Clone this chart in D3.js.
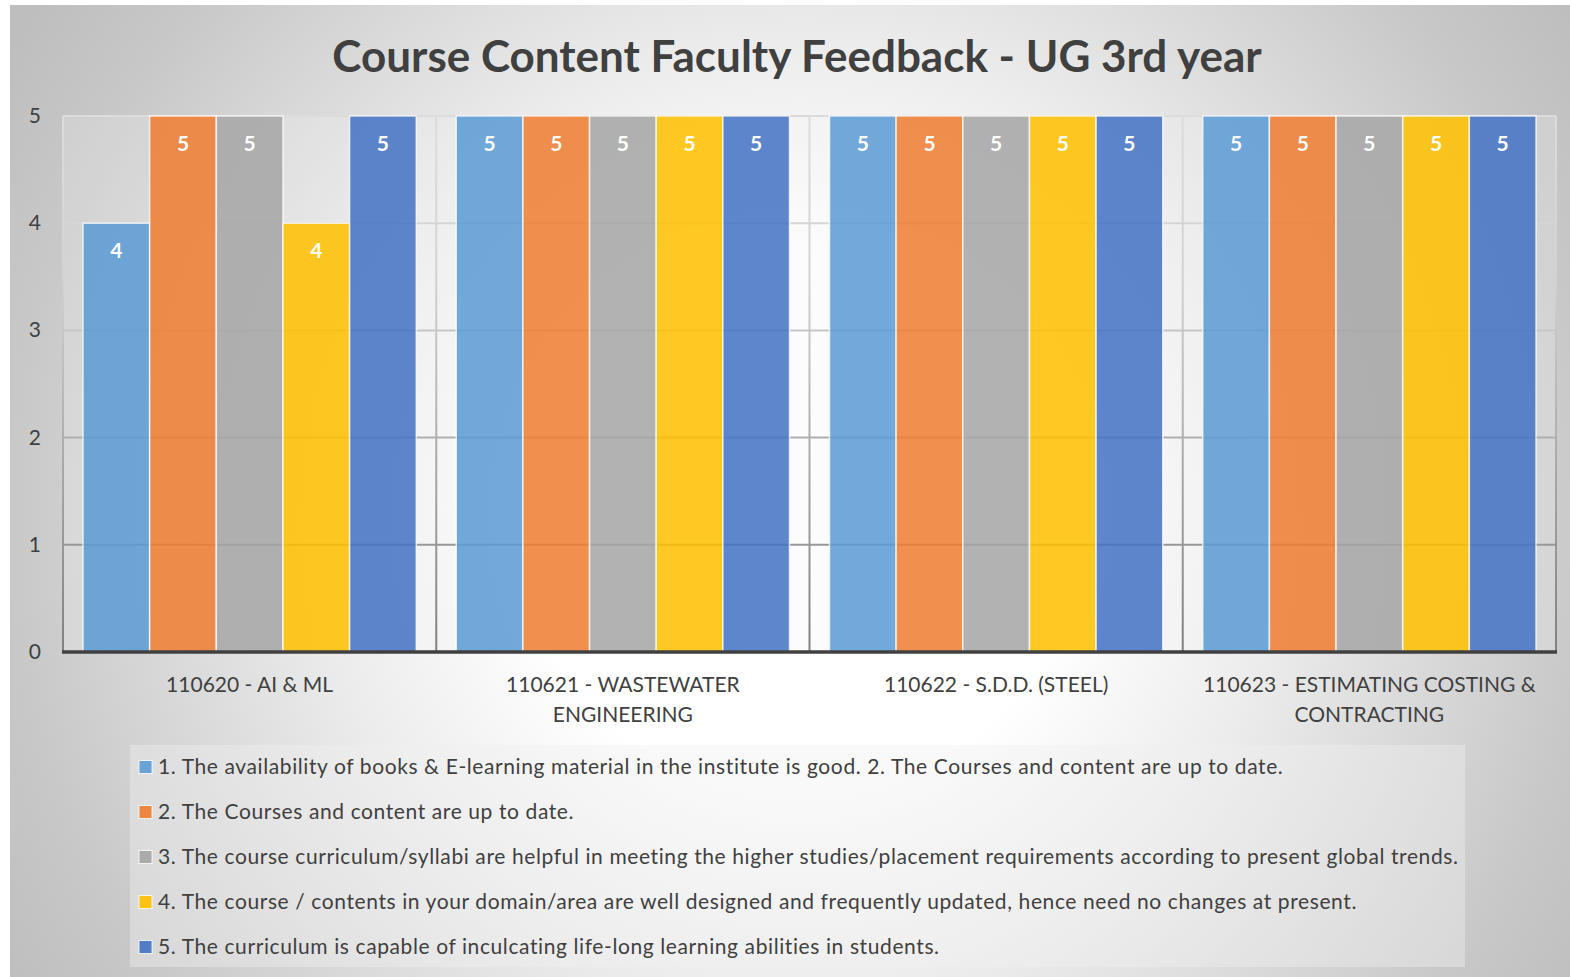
<!DOCTYPE html>
<head>
<title>Course Content Faculty Feedback - UG 3rd year</title>
<meta charset="utf-8">
<style>
body, html {
  padding: 0;
  margin: 0;
  border: 0;
  background: #fff;
}
svg {
  display: block;
  font-family: Lato, "Open Sans", sans-serif;
}
</style>
<script src="https://d3js.org/d3.v7.min.js"></script>
</head>
<body>
<svg id="chart" width="1570" height="977"></svg>
<script>

var title = "Course Content Faculty Feedback - UG 3rd year";

var categories = [
  "110620 - AI & ML",
  "110621 - WASTEWATER ENGINEERING",
  "110622 - S.D.D. (STEEL)",
  "110623 - ESTIMATING COSTING & CONTRACTING"
];

var seriesNames = [
  "1. The availability of books & E-learning material in the institute is good. 2. The Courses and content are up to date.",
  "2. The Courses and content are up to date.",
  "3. The course curriculum/syllabi are helpful in meeting the higher studies/placement requirements according to present global trends.",
  "4. The course / contents in your domain/area are well designed and frequently updated, hence need no changes at present.",
  "5. The curriculum is capable of inculcating life-long learning abilities in students."
];

var seriesColors = ["#5B9BD5", "#ED7D31", "#A5A5A5", "#FFC000", "#4472C4"];

// one array per series, one value per course
var s1 = [4, 5, 5, 5];
var s2 = [5, 5, 5, 5];
var s3 = [5, 5, 5, 5];
var s4 = [4, 5, 5, 5];
var s5 = [5, 5, 5, 5];
var series = [s1, s2, s3, s4, s5];

var yTicks = [0, 1, 2, 3, 4, 5];

var svg = d3.select("#chart");
var W = 1570, H = 977;
var plot = {left: 63, right: 1556, top: 116, bottom: 652};

var defs = svg.append("defs");

// chart background: white in the middle, grey towards the edges
var bg = defs.append("radialGradient")
  .attr("id", "bgGrad")
  .attr("gradientUnits", "userSpaceOnUse")
  .attr("cx", 800).attr("cy", 520).attr("r", 920);
[[0, "#ffffff"], [0.3, "#ffffff"], [0.52, "#ececec"], [0.86, "#c8c8c8"], [1, "#bebebe"]]
  .forEach(function(s) {
    bg.append("stop").attr("offset", s[0]).attr("stop-color", s[1]);
  });

var gridGrad = defs.append("linearGradient")
  .attr("id", "gridGrad")
  .attr("gradientUnits", "userSpaceOnUse")
  .attr("x1", 0).attr("y1", plot.top).attr("x2", 0).attr("y2", plot.bottom);
gridGrad.append("stop").attr("offset", "0").attr("stop-color", "#dcdcdc");
gridGrad.append("stop").attr("offset", "0.3").attr("stop-color", "#d2d2d2");
gridGrad.append("stop").attr("offset", "1").attr("stop-color", "#808080");

// chart area background
svg.append("rect")
  .attr("x", 10).attr("y", 5)
  .attr("width", W - 10).attr("height", H - 5)
  .attr("fill", "url(#bgGrad)");

// plot area
svg.append("rect")
  .attr("x", plot.left).attr("y", plot.top)
  .attr("width", plot.right - plot.left).attr("height", plot.bottom - plot.top)
  .attr("fill", "rgba(245,245,245,0.25)");

var x0 = d3.scaleBand()
  .domain(categories)
  .range([plot.left, plot.right])
  .padding(0);

// gap width 60% of a bar, split on both sides
var gap = x0.bandwidth() / (seriesNames.length + 0.6) * 0.6;
var x1 = d3.scaleBand()
  .domain(d3.range(seriesNames.length))
  .range([gap / 2, x0.bandwidth() - gap / 2])
  .padding(0);

var y = d3.scaleLinear()
  .domain([0, 5])
  .range([plot.bottom, plot.top]);

// horizontal gridlines
svg.append("g")
  .selectAll("line")
  .data(yTicks.filter(function(d) { return d > 0; }))
  .join("line")
  .attr("x1", plot.left).attr("x2", plot.right)
  .attr("y1", function(d) { return y(d); })
  .attr("y2", function(d) { return y(d); })
  .attr("stroke", "url(#gridGrad)")
  .attr("stroke-width", 2);

// vertical gridlines at category boundaries
var bounds = categories.map(function(c) { return x0(c); }).concat([plot.right]);
svg.append("g")
  .selectAll("line")
  .data(bounds)
  .join("line")
  .attr("x1", function(d) { return d; }).attr("x2", function(d) { return d; })
  .attr("y1", plot.top).attr("y2", plot.bottom)
  .attr("stroke", "url(#gridGrad)")
  .attr("stroke-width", 2);

// bars
var groups = svg.append("g")
  .selectAll("g")
  .data(categories)
  .join("g")
  .attr("transform", function(d) { return "translate(" + x0(d) + ",0)"; });

groups.selectAll("rect")
  .data(function(c, ci) {
    return series.map(function(s, si) { return {si: si, v: s[ci]}; });
  })
  .join("rect")
  .attr("x", function(d) { return x1(d.si); })
  .attr("width", x1.bandwidth())
  .attr("y", function(d) { return y(d.v); })
  .attr("height", function(d) { return y(0) - y(d.v); })
  .attr("fill", function(d) { return seriesColors[d.si]; })
  .attr("fill-opacity", 0.86)
  .attr("stroke", "rgba(255,255,255,0.75)")
  .attr("stroke-width", 1.5);

groups.selectAll("text")
  .data(function(c, ci) {
    return series.map(function(s, si) { return {si: si, v: s[ci]}; });
  })
  .join("text")
  .attr("x", function(d) { return x1(d.si) + x1.bandwidth() / 2; })
  .attr("y", function(d) { return y(d.v) + 35; })
  .attr("text-anchor", "middle")
  .attr("fill", "#fff")
  .attr("font-size", 21)
  .attr("font-weight", "bold")
  .text(function(d) { return d.v; });

// x axis line
svg.append("line")
  .attr("x1", plot.left - 1).attr("x2", plot.right + 1)
  .attr("y1", plot.bottom).attr("y2", plot.bottom)
  .attr("stroke", "#404040")
  .attr("stroke-width", 3.5);

// y tick labels
svg.append("g")
  .selectAll("text")
  .data(yTicks)
  .join("text")
  .attr("x", 41)
  .attr("y", function(d) { return y(d) + 7; })
  .attr("text-anchor", "end")
  .attr("fill", "#404040")
  .attr("font-size", 21)
  .text(function(d) { return d; });

// category labels, wrapped to band width
var catText = svg.append("g")
  .selectAll("text")
  .data(categories)
  .join("text")
  .attr("x", function(d) { return x0(d) + x0.bandwidth() / 2; })
  .attr("y", 692)
  .attr("text-anchor", "middle")
  .attr("fill", "#404040")
  .attr("font-size", 21);

catText.each(function(d) {
  var t = d3.select(this);
  var words = d.split(" ");
  var line = [];
  var tspan = t.append("tspan").attr("x", t.attr("x")).attr("dy", 0);
  words.forEach(function(w) {
    line.push(w);
    tspan.text(line.join(" "));
    if (tspan.node().getComputedTextLength() > 350 && line.length > 1) {
      line.pop();
      tspan.text(line.join(" "));
      line = [w];
      tspan = t.append("tspan").attr("x", t.attr("x")).attr("dy", 30).text(w);
    }
  });
});

// title
svg.append("text")
  .attr("x", 797)
  .attr("y", 72)
  .attr("text-anchor", "middle")
  .attr("fill", "#404040")
  .attr("font-size", 44)
  .attr("font-weight", "bold")
  .text(title);

// legend
var legend = svg.append("g");
legend.append("rect")
  .attr("x", 130).attr("y", 745)
  .attr("width", 1335).attr("height", 222)
  .attr("fill", "rgba(240,240,240,0.4)");

var items = legend.selectAll("g")
  .data(seriesNames)
  .join("g")
  .attr("transform", function(d, i) { return "translate(139," + (767 + i * 45) + ")"; });

items.append("rect")
  .attr("x", 0).attr("y", -6.5)
  .attr("width", 13).attr("height", 13)
  .attr("fill", function(d, i) { return seriesColors[i]; })
  .attr("fill-opacity", 0.9)
  .attr("stroke", "rgba(255,255,255,0.8)")
  .attr("stroke-width", 1);

items.append("text")
  .attr("x", 19)
  .attr("y", 7)
  .attr("fill", "#404040")
  .attr("font-size", 21)
  .attr("letter-spacing", 0.6)
  .text(function(d) { return d; });

</script>
</body>
</html>
